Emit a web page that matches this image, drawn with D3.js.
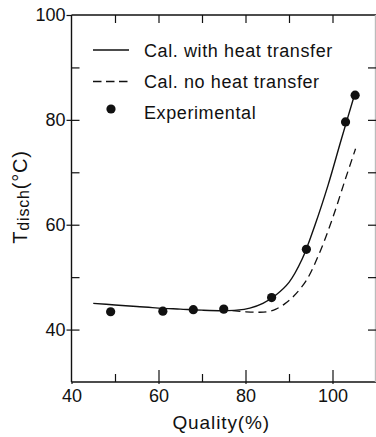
<!DOCTYPE html>
<html>
<head>
<meta charset="utf-8">
<script src="https://cdn.jsdelivr.net/npm/d3@7"></script>
<style>
  html, body { margin: 0; padding: 0; background: #fff; }
  svg { display: block; font-family: "Liberation Sans", Arial, sans-serif; }
  .axis path { display: none; }
  .axis line { stroke: #111; stroke-width: 1.2; }
  .axis text { fill: #111; font-size: 18px; }
</style>
</head>
<body>
<div id="chart"></div>
<script>
// experimental points
var expQuality = [49, 61, 68, 75, 86, 94, 103, 105.2];
var expTemp = [43.4, 43.5, 43.8, 43.9, 46.1, 55.3, 79.6, 84.7];

// calculated, with heat transfer
var withQuality = [45, 50, 55, 60, 65, 70, 75, 78, 81, 84, 87, 90, 93, 96, 99, 102, 105];
var withTemp = [45.0, 44.7, 44.4, 44.1, 43.9, 43.7, 43.6, 43.7, 44.1, 45.0, 46.6, 49.0, 53.4, 60.0, 67.6, 76.2, 84.6];

// calculated, no heat transfer
var noQuality = [77, 80, 83, 85, 87, 89, 91, 94, 97, 100, 103, 105.3];
var noTemp = [43.6, 43.4, 43.3, 43.4, 43.9, 44.9, 46.3, 49.4, 54.6, 61.2, 68.8, 74.5];

var xLabels = [40, 60, 80, 100];
var yLabels = [40, 60, 80, 100];
var legendNames = ["Cal. with heat transfer", "Cal. no heat transfer", "Experimental"];

function drawChart() {
    // plot area (top is a reserved window name, so use a margin object)
    var width = 376, height = 437;
    var margin = {left: 71.5, top: 15, right: 376, bottom: 382};

    var svg = d3.select("#chart")
        .append("svg")
        .attr("width", width)
        .attr("height", height);

    var x = d3.scaleLinear().domain([40, 110]).range([margin.left, margin.right]);
    var y = d3.scaleLinear().domain([30, 100]).range([margin.bottom, margin.top]);

    // frame (the right edge is barely visible in the scan)
    svg.append("g")
        .selectAll("line")
        .data([
            [margin.left, margin.top, 376, margin.top, "#111"],
            [margin.left, margin.top, margin.left, margin.bottom, "#111"],
            [margin.left, margin.bottom, 376, margin.bottom, "#111"],
            [375.5, margin.top, 375.5, margin.bottom, "#bbb"]
        ])
        .enter()
        .append("line")
        .attr("x1", function (d) { return d[0]; })
        .attr("y1", function (d) { return d[1]; })
        .attr("x2", function (d) { return d[2]; })
        .attr("y2", function (d) { return d[3]; })
        .style("stroke", function (d) { return d[4]; })
        .style("stroke-width", 1.4);

    // bottom: labels with short outer ticks, then inner ticks
    svg.append("g")
        .attr("class", "axis")
        .attr("transform", "translate(0," + margin.bottom + ")")
        .call(d3.axisBottom(x).tickValues(xLabels).tickSize(2).tickPadding(5));
    svg.append("g")
        .attr("class", "axis")
        .attr("transform", "translate(0," + margin.bottom + ")")
        .call(d3.axisBottom(x).tickValues([60, 80, 100]).tickSize(-12).tickFormat(""));
    svg.append("g")
        .attr("class", "axis")
        .attr("transform", "translate(0," + margin.bottom + ")")
        .call(d3.axisBottom(x).tickValues([50, 70, 90]).tickSize(-8).tickFormat(""));

    // top inner ticks
    svg.append("g")
        .attr("class", "axis")
        .attr("transform", "translate(0," + margin.top + ")")
        .call(d3.axisTop(x).tickValues([50, 60, 70, 80, 90, 100]).tickSize(-8).tickFormat(""));

    // left: labels with outer ticks, inner ticks every 10
    svg.append("g")
        .attr("class", "axis")
        .attr("transform", "translate(" + margin.left + ",0)")
        .call(d3.axisLeft(y).tickValues(yLabels).tickSize(5).tickPadding(1));
    svg.append("g")
        .attr("class", "axis")
        .attr("transform", "translate(" + margin.left + ",0)")
        .call(d3.axisLeft(y).tickValues([40, 50, 60, 70, 80, 90]).tickSize(-8).tickFormat(""));

    // right inner ticks
    svg.append("g")
        .attr("class", "axis")
        .attr("transform", "translate(376,0)")
        .call(d3.axisRight(y).tickValues([40, 50, 60, 70, 80, 90]).tickSize(-8).tickFormat(""));

    // axis titles
    svg.append("text")
        .attr("x", (margin.left + 375) / 2 - 2)
        .attr("y", 429)
        .attr("text-anchor", "middle")
        .style("font-size", "19px")
        .style("letter-spacing", "0.9px")
        .style("fill", "#111")
        .text("Quality(%)");

    var yTitle = svg.append("text")
        .attr("transform", "translate(27,197) rotate(-90)")
        .attr("text-anchor", "middle")
        .style("font-size", "20px")
        .style("letter-spacing", "0.8px")
        .style("fill", "#111");
    yTitle.append("tspan").text("T");
    yTitle.append("tspan").attr("dy", 2).style("font-size", "16px").text("disch");
    yTitle.append("tspan").attr("dy", -2).text("(°C)");

    // curves
    var line = d3.line()
        .x(function (d) { return x(d[0]); })
        .y(function (d) { return y(d[1]); })
        .curve(d3.curveCatmullRom.alpha(0.5));

    svg.append("path")
        .datum(d3.zip(noQuality, noTemp))
        .attr("d", line)
        .style("fill", "none")
        .style("stroke", "#111")
        .style("stroke-width", 1.3)
        .style("stroke-dasharray", "8,5");

    svg.append("path")
        .datum(d3.zip(withQuality, withTemp))
        .attr("d", line)
        .style("fill", "none")
        .style("stroke", "#111")
        .style("stroke-width", 1.4);

    svg.append("g")
        .selectAll("circle")
        .data(d3.zip(expQuality, expTemp))
        .enter()
        .append("circle")
        .attr("cx", function (d) { return x(d[0]); })
        .attr("cy", function (d) { return y(d[1]); })
        .attr("r", 4.6)
        .style("fill", "#111");

    // legend
    var legend = svg.append("g");
    legend.append("line")
        .attr("x1", 93).attr("x2", 129).attr("y1", 50).attr("y2", 50)
        .style("stroke", "#111").style("stroke-width", 1.4);
    legend.append("line")
        .attr("x1", 93).attr("x2", 130).attr("y1", 81.5).attr("y2", 81.5)
        .style("stroke", "#111").style("stroke-width", 1.3)
        .style("stroke-dasharray", "8.5,4.5");
    legend.append("circle")
        .attr("cx", 111).attr("cy", 109).attr("r", 4.6)
        .style("fill", "#111");

    legend.selectAll("text")
        .data(legendNames)
        .enter()
        .append("text")
        .attr("x", 144)
        .attr("y", function (d, i) { return [56.5, 88, 118.5][i]; })
        .style("font-size", "18px")
        .style("letter-spacing", "0.6px")
        .style("fill", "#111")
        .text(function (d) { return d; });
}

drawChart();
</script>
</body>
</html>
